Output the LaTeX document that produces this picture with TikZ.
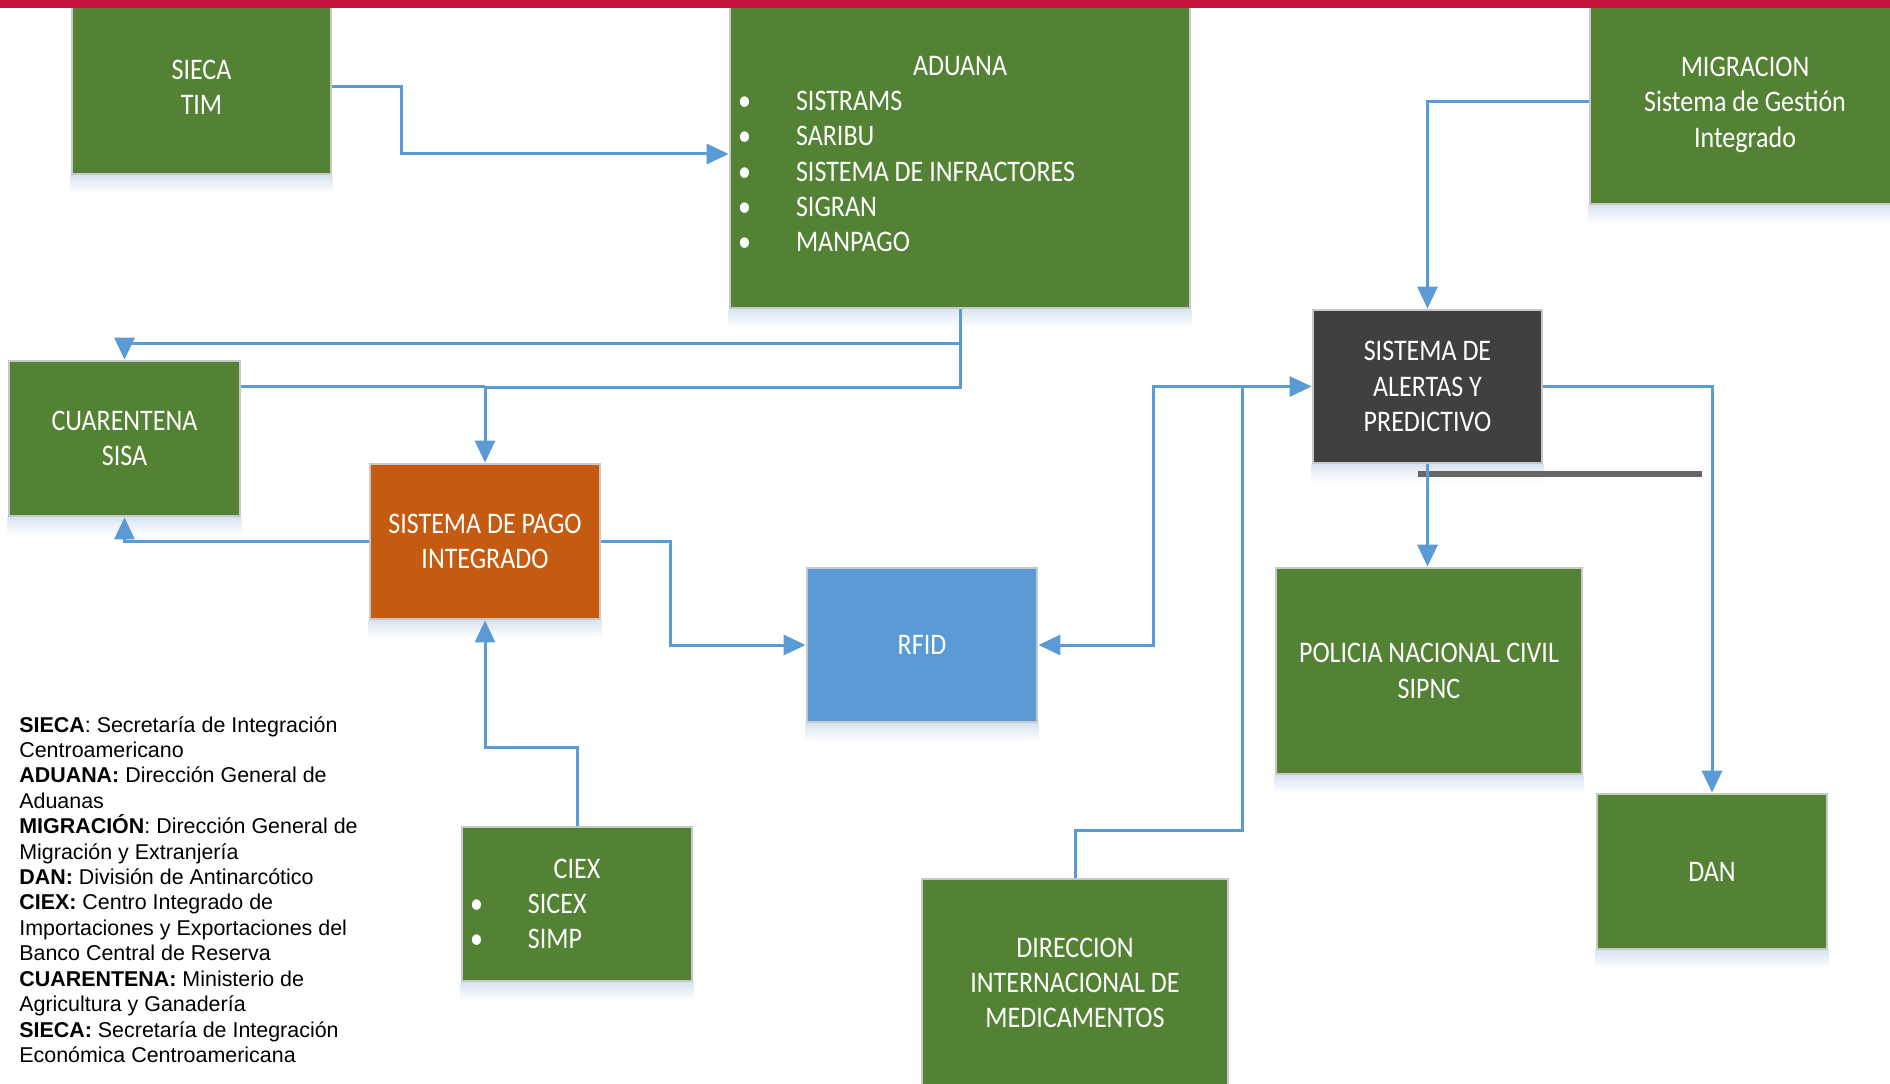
\documentclass[tikz,border=0pt]{standalone}
\usepackage{fontspec}
\setmainfont{Liberation Sans}
\newfontfamily\boxfont[FakeStretch=0.87]{Carlito}
\usetikzlibrary{arrows.meta}
\usetikzlibrary{calc}
\definecolor{boxgreen}{RGB}{84,130,53}
\definecolor{boxorange}{RGB}{197,90,17}
\definecolor{boxblue}{RGB}{91,155,213}
\definecolor{boxdark}{RGB}{64,64,64}
\definecolor{linkblue}{RGB}{91,155,213}
\definecolor{edgegray}{RGB}{200,200,200}
\definecolor{bargray}{RGB}{102,102,102}
\definecolor{topred}{RGB}{197,18,60}
\definecolor{glow}{RGB}{218,229,243}
\tikzset{
  sysbox/.style={
    draw=edgegray, line width=0.055cm, fill=boxgreen,
    text=white, font=\boxfont\fontsize{17}{20.1}\selectfont,
    align=center, inner sep=0pt,
  },
  listbox/.style={sysbox, align=flush left},
  link/.style={draw=linkblue, line width=0.06cm},
  legend/.style={anchor=north west, align=left, inner sep=0pt,
    font=\fontsize{12.2}{14.46}\selectfont},
}
\newcommand\boxitem[1]{\par\noindent\hspace*{0.16cm}\makebox[1.16cm][l]{\textbullet}#1}

\begin{document}
\begin{tikzpicture}[x=0.02cm, y=-0.02cm, >={Triangle[length=0.44cm, width=0.4cm]}]

  \useasboundingbox (0,0) rectangle (1890,1084);

  % systems
  \node[sysbox, minimum width=5.18cm, minimum height=3.48cm] (sieca) at (201.5,87) {SIECA\\TIM};
  \node[listbox, text width=9.2cm, minimum height=6.16cm] (aduana) at (960,154) {%
    {\centering ADUANA\par}
    \boxitem{SISTRAMS}
    \boxitem{SARIBU}
    \boxitem{SISTEMA DE INFRACTORES}
    \boxitem{SIGRAN}
    \boxitem{MANPAGO}};
  \node[sysbox, text depth=0pt, minimum width=6.2cm, minimum height=4.08cm] (migracion) at (1745,102) {MIGRACION\\Sistema de Gestión\\Integrado};
  \node[sysbox, minimum width=4.62cm, minimum height=3.1cm] (cuarentena) at (124.5,438.5) {CUARENTENA\\SISA};
  \node[sysbox, fill=boxorange, minimum width=4.6cm, minimum height=3.1cm] (pago) at (485,541.5) {SISTEMA DE PAGO\\INTEGRADO};
  \node[sysbox, fill=boxblue, minimum width=4.6cm, minimum height=3.08cm] (rfid) at (922,645) {RFID};
  \node[sysbox, fill=boxdark, minimum width=4.58cm, minimum height=3.06cm] (alertas) at (1427.5,386.5) {SISTEMA DE\\ALERTAS Y\\PREDICTIVO};
  \node[sysbox, minimum width=6.12cm, minimum height=4.12cm] (policia) at (1429,671) {POLICIA NACIONAL CIVIL\\SIPNC};
  \node[sysbox, minimum width=4.6cm, minimum height=3.1cm] (dan) at (1712,871.5) {DAN};
  \node[sysbox, minimum width=6.12cm, minimum height=4.16cm] (direccion) at (1075,983) {DIRECCION\\INTERNACIONAL DE\\MEDICAMENTOS};
  \node[listbox, text width=4.6cm, minimum height=3.08cm] (ciex) at (577,904) {%
    {\centering CIEX\par}
    \boxitem{SICEX}
    \boxitem{SIMP}};

  % soft shadow under every box
  \foreach \n in {sieca,aduana,migracion,cuarentena,pago,rfid,alertas,policia,dan,ciex}
    \shade[top color=glow, bottom color=white] (\n.south west) rectangle ($(\n.south east)+(0,18)$);

  \fill[topred] (0,0) rectangle (1890,8);
  \fill[bargray] (1418,471) rectangle (1702,477);

  % links
  \coordinate (cuajoin) at ($(cuarentena.north east)+(0,27)$);
  \draw[link, ->] (sieca.east) -- ++(69,0) |- (aduana.west);
  \draw[link, ->] (aduana.south) -- ++(0,34) -| (cuarentena.north);
  \draw[link, ->] (aduana.south) -- ++(0,78) -| (pago.north);
  \draw[link] (cuajoin) -- (cuajoin -| pago.north);
  \draw[link, ->] (pago.west) -| (cuarentena.south);
  \draw[link, ->] (pago.east) -- ++(69,0) |- (rfid.west);
  \draw[link, ->] (ciex.north) -- ++(0,-78) -| (pago.south);
  \draw[link, ->] (migracion.west) -| (alertas.north);
  \draw[link, <->] (rfid.east) -- ++(115,0) |- (alertas.west);
  \draw[link] (direccion.north) -- ++(0,-47) -| ($(alertas.west)+(-69,0)$);
  \draw[link, ->] (alertas.east) -| (dan.north);
  \draw[link, ->] (alertas.south) -- (alertas.south |- policia.north);

  % glossary
  \node[legend] (glossary) at (19,716) {\textbf{SIECA}: Secretaría de Integración\\
    Centroamericano\\
    \textbf{ADUANA:} Dirección General de\\
    Aduanas\\
    \textbf{MIGRACIÓN}: Dirección General de\\
    Migración y Extranjería\\
    \textbf{DAN:} División de Antinarcótico\\
    \textbf{CIEX:} Centro Integrado de\\
    Importaciones y Exportaciones del\\
    Banco Central de Reserva\\
    \textbf{CUARENTENA:} Ministerio de\\
    Agricultura y Ganadería\\
    \textbf{SIECA:} Secretaría de Integración\\
    Económica Centroamericana};

\end{tikzpicture}
\end{document}
